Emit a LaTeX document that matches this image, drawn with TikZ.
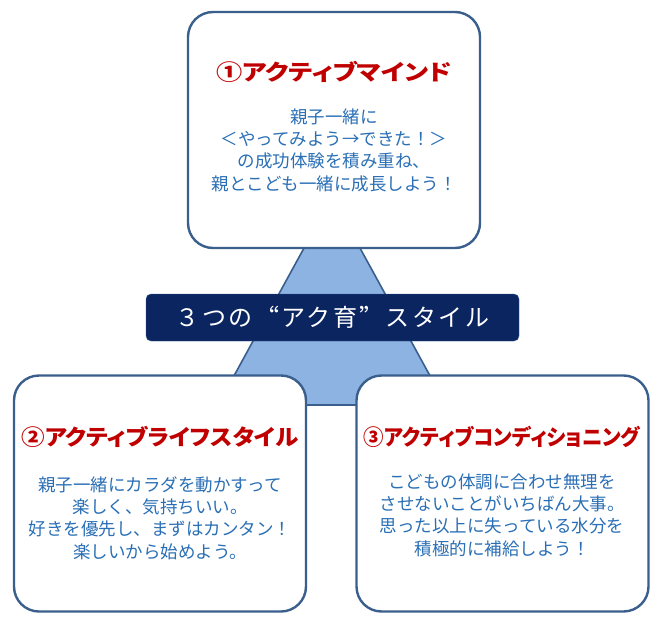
\documentclass[tikz,border=0pt]{standalone}
\usepackage{fontspec}
\setmainfont{Noto Sans CJK JP}
\newfontfamily\jptitle[RawFeature=+palt]{Noto Sans CJK JP}
\newfontfamily\jpbanner[LetterSpace=10,RawFeature=+fwid]{Noto Sans CJK JP}
\definecolor{edgeblue}{HTML}{3A5F8C}
\definecolor{trifill}{HTML}{8DB3E2}
\definecolor{navy}{HTML}{0B2561}
\definecolor{titlered}{HTML}{C00000}
\definecolor{bodyblue}{HTML}{2A6FB6}

\begin{document}
\begin{tikzpicture}[x=1pt, y=-1pt,
		card/.style={rectangle, draw=edgeblue, line width=2.4pt, fill=white, rounded corners=25pt, minimum width=292pt, minimum height=236pt},
		cardtitle/.style={font=\jptitle\bfseries\fontsize{22}{24}\selectfont, text=titlered},
		cardtext/.style={align=center, font=\fontsize{17.5}{22.3}\selectfont, text=bodyblue},
		banner/.style={rectangle, fill=navy, draw=edgeblue, rounded corners=5pt, minimum width=373pt, minimum height=47pt, text=white, font=\jpbanner\fontsize{24}{28}\selectfont},
	]
	\useasboundingbox (0,0) rectangle (663,620);

	% Pyramid behind the cards
	\coordinate (apex)  at (332,197);
	\coordinate (baseL) at (218,405);
	\coordinate (baseR) at (446,405);
	\draw[draw=edgeblue, line width=1.6pt, fill=trifill] (apex) -- (baseL) -- (baseR) -- cycle;

	% Cards
	\node[card] (mind)  at (334,130)   {};
	\node[card] (life)  at (160,493.5) {};
	\node[card] (cond)  at (502.5,493.5) {};

	% Banner
	\node[banner] (style) at (332.5,317.5) {３つの“アク育”スタイル};

	% Card 1
	\node[cardtitle] (mindT) at (334,72) {\addfontfeature{FakeStretch=1.19}①アクティブマインド};
	\node[cardtext]  (mindB) at (334,150) {親子一緒に\\＜やってみよう→できた！＞\\の成功体験を積み重ね、\\親とこども一緒に成長しよう！};

	% Card 2
	\node[cardtitle] (lifeT) at (160,437) {\addfontfeature{FakeStretch=1.07}②アクティブライフスタイル};
	\node[cardtext]  (lifeB) at (160,518) {親子一緒にカラダを動かすって\\楽しく、気持ちいい。\\好きを優先し、まずはカンタン！\\楽しいから始めよう。};

	% Card 3
	\node[cardtitle] (condT) at (502,437) {\addfontfeature{FakeStretch=0.93}③アクティブコンディショニング};
	\node[cardtext]  (condB) at (502,515) {こどもの体調に合わせ無理を\\させないことがいちばん大事。\\思った以上に失っている水分を\\積極的に補給しよう！};

\end{tikzpicture}
\end{document}
